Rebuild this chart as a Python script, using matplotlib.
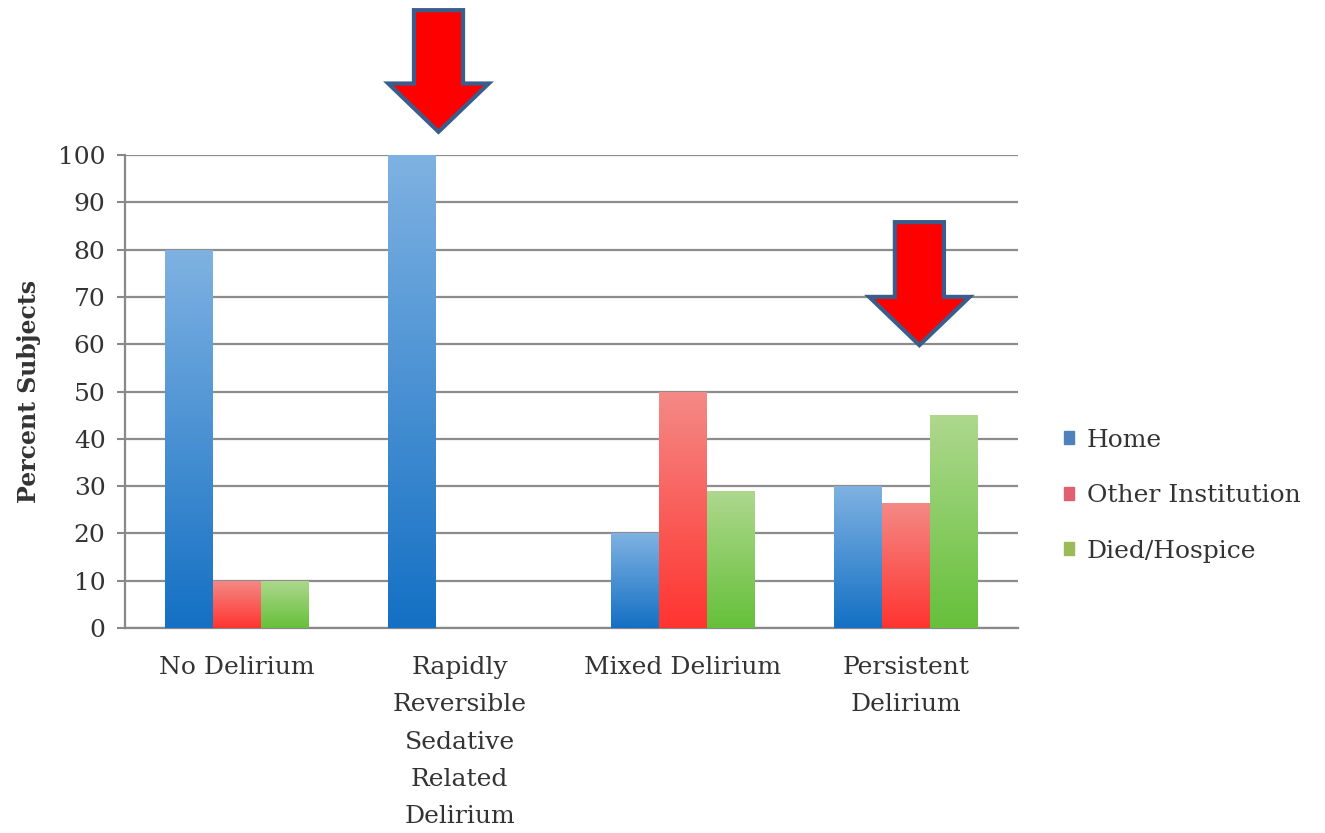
import matplotlib
matplotlib.use("Agg")
import matplotlib.pyplot as plt
import numpy as np
from matplotlib.patches import FancyArrow
from matplotlib.colors import LinearSegmentedColormap

# ── data ──────────────────────────────────────────────────────────────────────
CATEGORIES = ["No Delirium", "Rapidly\nReversible\nSedative\nRelated\nDelirium",
              "Mixed Delirium", "Persistent\nDelirium"]
SERIES = ["Home", "Other Institution", "Died/Hospice"]
HOME = [80, 100, 20, 30]
OTHER = [10, 0, 50, 26.5]
DIED = [10, 0, 29, 45]

# gradient colours (top, bottom) per series
GRADS = [("#7fb2e2", "#1470c4"), ("#f48a86", "#ff3430"), ("#aed88e", "#66c03a")]
LEGEND_COLORS = ["#4f81bd", "#e06070", "#9bbb59"]

plt.rcParams["font.family"] = ["DejaVu Serif"]

fig = plt.figure(figsize=(13.25, 8.33), dpi=100)
ax = fig.add_axes([0.0943, 0.246, 0.6737, 0.568])

x = np.arange(len(CATEGORIES))
width = 0.215
grad = np.linspace(0, 1, 256).reshape(-1, 1)

for i, (vals, (top, bot)) in enumerate(zip([HOME, OTHER, DIED], GRADS)):
    bars = ax.bar(x + (i - 1) * width, vals, width, color="none",
                  edgecolor="none", label=SERIES[i], zorder=3)
    cmap = LinearSegmentedColormap.from_list(f"g{i}", [bot, top])
    for b in bars:
        if b.get_height() <= 0:
            continue
        x0, y0 = b.get_x(), b.get_y()
        im = ax.imshow(grad, cmap=cmap, aspect="auto", origin="lower",
                       extent=[x0, x0 + b.get_width(), y0, y0 + b.get_height()],
                       zorder=3)
        im.set_clip_path(b)

ax.set_xlim(-0.5, len(CATEGORIES) - 0.5)
ax.set_ylim(0, 100)
ax.set_yticks(range(0, 101, 10))
ax.set_xticks(x)
ax.set_xticklabels(CATEGORIES, fontsize=18, color="#333333", linespacing=1.8)
ax.tick_params(axis="y", labelsize=18, labelcolor="#333333", length=6,
               color="#888888", width=1.5, pad=8)
ax.tick_params(axis="x", length=0, pad=20)
ax.grid(axis="y", color="#8c8c8c", linewidth=1.6, zorder=0)
ax.set_axisbelow(True)
for s in ["top", "right"]:
    ax.spines[s].set_visible(False)
for s in ["left", "bottom"]:
    ax.spines[s].set_color("#888888")
    ax.spines[s].set_linewidth(1.6)
ax.set_ylabel("Percent Subjects", fontsize=17, fontweight="bold",
              color="#333333", labelpad=12)

# legend with colour squares
handles = [plt.Rectangle((0, 0), 1, 1, color=c) for c in LEGEND_COLORS]
fig.legend(handles, SERIES, loc="center left", bbox_to_anchor=(0.786, 0.405),
           frameon=False, fontsize=18, handlelength=0.42, handleheight=0.42,
           handletextpad=0.5, labelspacing=1.3, labelcolor="#333333")

# red callout arrows
for xc, y_top, y_tip in [(0.905, 130.6, 104.9), (3.06, 85.8, 59.8)]:
    arr = FancyArrow(xc, y_top, 0, y_tip - y_top, width=0.22, head_width=0.45,
                     head_length=10.2, length_includes_head=True,
                     facecolor="#ff0000", edgecolor="#3a5d8c", linewidth=3,
                     clip_on=False, zorder=5)
    ax.add_patch(arr)

fig.savefig("out.png", dpi=100)
